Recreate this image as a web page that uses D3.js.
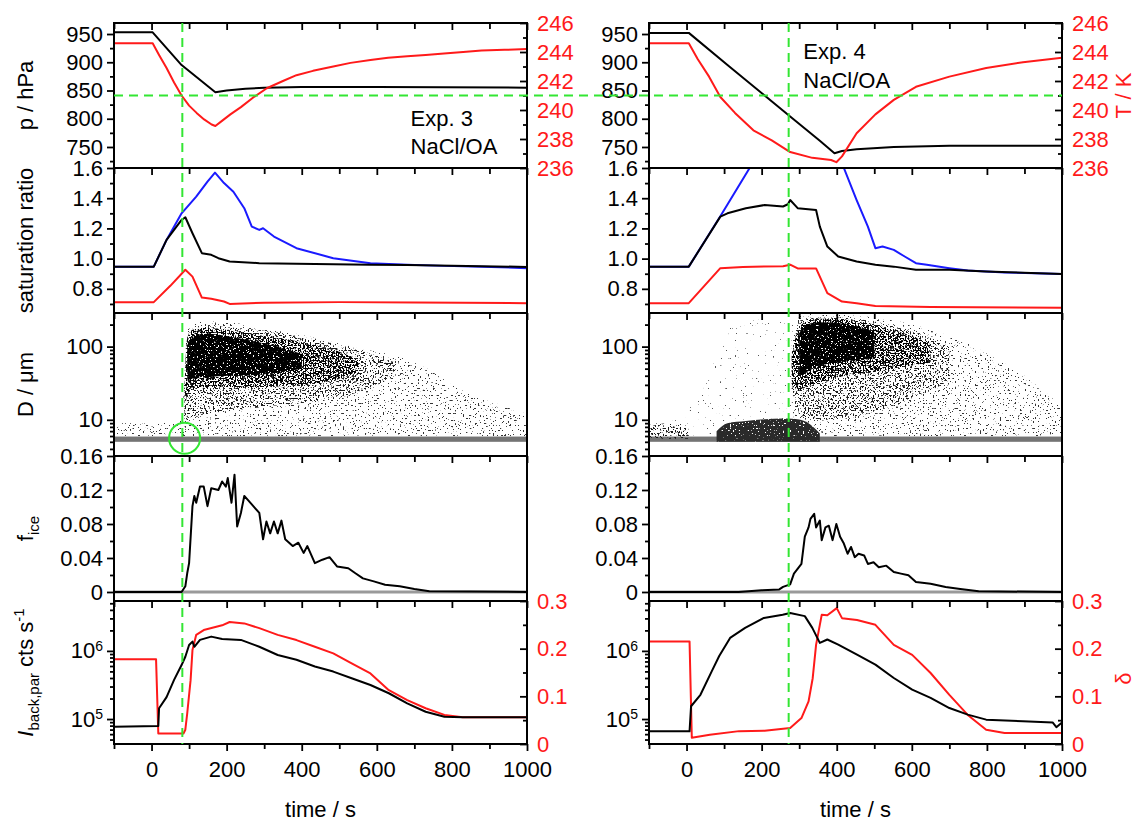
<!DOCTYPE html>
<html><head><meta charset="utf-8">
<script src="https://cdn.jsdelivr.net/npm/d3@7"></script>
<style>
body{margin:0;background:#fff;}
svg text{font-family:"Liberation Sans",Arial,Helvetica,sans-serif;}
</style></head>
<body><svg id="c" width="1138" height="824"></svg>
<script>
// ===== tick values =====
const xMajor = [0, 200, 400, 600, 800, 1000];
const xMinor = [-100, 100, 300, 500, 700, 900];
const pMajor = [750, 800, 850, 900, 950];
const pMinor = [725, 775, 825, 875, 925];
const tMajor = [236, 238, 240, 242, 244, 246];
const tMinor = [237, 239, 241, 243, 245];
const sMajor = [0.8, 1.0, 1.2, 1.4, 1.6];
const sMinor = [0.7, 0.9, 1.1, 1.3, 1.5];
const dMajor = [10, 100];
const dMinor = [4, 5, 6, 7, 8, 9, 20, 30, 40, 50, 60, 70, 80, 90, 200];
const fMajor = [0, 0.04, 0.08, 0.12, 0.16];
const fMinor = [0.02, 0.06, 0.10, 0.14];
const iMajor = [1e5, 1e6];
const iMinor = [5e4, 6e4, 7e4, 8e4, 9e4, 2e5, 3e5, 4e5, 5e5, 6e5, 7e5, 8e5, 9e5, 2e6, 3e6, 4e6, 5e6];
const delMajor = [0, 0.1, 0.2, 0.3];
const delMinor = [0.05, 0.15, 0.25];

// ===== Exp. 3 =====
const e3_pTime = [-100, 3, 80, 170, 200, 250, 300, 400, 600, 1000];
const e3_p     = [953, 953, 895, 847, 850, 853, 855, 856, 856, 855];
const e3_TTime = [-100, 3, 20, 40, 60, 80, 100, 120, 140, 160, 170, 185, 210, 238, 270, 307, 350, 386, 430, 484, 530, 583, 630, 681, 730, 779, 830, 879, 940, 1000];
const e3_T     = [244.6, 244.6, 243.8, 242.9, 241.9, 241.0, 240.3, 239.8, 239.35, 239.0, 238.9, 239.2, 239.7, 240.2, 240.85, 241.5, 242.0, 242.4, 242.7, 243.0, 243.25, 243.45, 243.6, 243.7, 243.8, 243.9, 244.0, 244.1, 244.15, 244.2];
const e3_sBlueTime = [-100, 6, 40, 80, 119, 149, 169, 193, 218, 247, 267, 287, 297, 326, 386, 484, 583, 681, 780, 879, 1000];
const e3_sBlue     = [0.947, 0.947, 1.124, 1.30, 1.41, 1.51, 1.569, 1.50, 1.443, 1.334, 1.212, 1.19, 1.201, 1.146, 1.069, 1.003, 0.97, 0.959, 0.952, 0.947, 0.937];
const e3_sBlackTime = [-100, 6, 40, 80, 90, 109, 134, 159, 178, 208, 287, 386, 583, 681, 880, 1000];
const e3_sBlack     = [0.947, 0.947, 1.124, 1.256, 1.274, 1.168, 1.036, 1.025, 1.003, 0.981, 0.97, 0.966, 0.96, 0.958, 0.95, 0.945];
const e3_sRedTime = [-100, 6, 50, 90, 109, 134, 159, 193, 208, 300, 500, 700, 1000];
const e3_sRed     = [0.712, 0.712, 0.82, 0.926, 0.881, 0.742, 0.734, 0.716, 0.70, 0.708, 0.712, 0.71, 0.705];
const e3_cloudTime = [-100, 0, 80, 88, 95, 110, 150, 200, 250, 300, 350, 400, 450, 500, 550, 600, 650, 700, 750, 800, 900, 1000];
const e3_sparseLo  = [6, 6, 6, 6, 6, 6, 6, 6, 6, 6, 6, 6, 6, 6, 6, 6, 6, 6, 6, 6, 6, 6];
const e3_sparseHi  = [9, 9, 10, 40, 180, 215, 220, 215, 200, 180, 160, 145, 125, 110, 95, 85, 75, 60, 45, 30, 18, 12];
const e3_mediumLo  = [null, null, null, 7, 9, 11, 12, 13, 14, 15, 16, 17, 18, 20, 24, 30, 40, null, null, null, null, null];
const e3_mediumHi  = [null, null, null, 30, 110, 170, 190, 185, 175, 165, 150, 135, 120, 105, 90, 75, 60, null, null, null, null, null];
const e3_darkLo    = [null, null, null, 10, 22, 26, 28, 28, 28, 28, 29, 30, 32, 36, 45, null, null, null, null, null, null, null];
const e3_darkHi    = [null, null, null, 28, 130, 170, 180, 170, 155, 140, 128, 115, 100, 85, 65, null, null, null, null, null, null, null];
const e3_denseLo   = [null, null, null, null, 35, 36, 38, 40, 40, 42, 45, 50, null, null, null, null, null, null, null, null, null, null];
const e3_denseHi   = [null, null, null, null, 100, 140, 150, 140, 125, 110, 95, 80, null, null, null, null, null, null, null, null, null, null];
const e3_fTime = [-100, 80, 90, 95, 100, 109, 114, 119, 129, 139, 149, 159, 178, 188, 198, 203, 213, 221, 228, 238, 247, 267, 287, 297, 306, 316, 326, 336, 346, 356, 376, 391, 405, 415, 435, 455, 474, 494, 524, 543, 563, 592, 622, 661, 700, 740, 1000];
const e3_f     = [0, 0, 0.0067, 0.022, 0.034, 0.101, 0.113, 0.105, 0.124, 0.124, 0.101, 0.122, 0.120, 0.130, 0.124, 0.134, 0.105, 0.138, 0.077, 0.093, 0.113, 0.103, 0.093, 0.062, 0.083, 0.069, 0.083, 0.069, 0.084, 0.062, 0.054, 0.058, 0.046, 0.054, 0.034, 0.038, 0.041, 0.030, 0.028, 0.022, 0.016, 0.0125, 0.0086, 0.0067, 0.0035, 0.0008, 0];
const e3_ITime = [-100, 18, 20, 40, 60, 80, 90, 100, 109, 114, 129, 159, 188, 238, 287, 336, 386, 435, 484, 533, 583, 632, 681, 730, 780, 829, 1000];
const e3_I     = [7.7e4, 7.9e4, 1.44e5, 2.1e5, 3.75e5, 6.2e5, 8.2e5, 1.22e6, 1.37e6, 1.15e6, 1.45e6, 1.62e6, 1.5e6, 1.45e6, 1.15e6, 8.7e5, 7.4e5, 5.9e5, 4.97e5, 3.97e5, 3.16e5, 2.39e5, 1.7e5, 1.28e5, 1.08e5, 1.06e5, 1.06e5];
const e3_delTime = [-100, 12, 18, 85, 90, 95, 104, 109, 119, 139, 188, 208, 247, 287, 336, 386, 435, 484, 533, 583, 632, 681, 730, 780, 829, 1000];
const e3_del     = [0.178, 0.178, 0.022, 0.022, 0.03, 0.064, 0.134, 0.197, 0.229, 0.239, 0.249, 0.256, 0.253, 0.243, 0.229, 0.218, 0.204, 0.190, 0.169, 0.148, 0.113, 0.092, 0.075, 0.061, 0.056, 0.056];

// ===== Exp. 4 =====
const e4_pTime = [-100, 6, 109, 208, 276, 355, 394, 414, 453, 552, 700, 1000];
const e4_p     = [952, 952, 895, 841, 804, 761, 739, 743, 746, 750, 752, 752];
const e4_TTime = [-100, 6, 30, 60, 90, 129, 178, 227, 276, 335, 385, 399, 414, 453, 503, 552, 611, 700, 798, 896, 1000];
const e4_T     = [244.6, 244.6, 243.5, 242.3, 240.9, 239.8, 238.6, 237.9, 237.1, 236.7, 236.55, 236.4, 236.8, 238.4, 239.7, 240.7, 241.6, 242.3, 242.9, 243.3, 243.6];
const e4_sBlueTime = [-100, 6, 90, 168, 250, 330, 380, 419, 453, 483, 503, 522, 552, 581, 611, 640, 700, 749, 847, 1000];
const e4_sBlue     = [0.947, 0.947, 1.28, 1.6, 1.8, 1.86, 1.82, 1.6, 1.388, 1.212, 1.069, 1.08, 1.058, 1.014, 0.97, 0.959, 0.937, 0.921, 0.908, 0.899];
const e4_sBlackTime = [-100, 6, 90, 109, 158, 208, 257, 270, 276, 296, 345, 355, 375, 404, 453, 503, 552, 611, 700, 798, 1000];
const e4_sBlack     = [0.947, 0.947, 1.278, 1.30, 1.334, 1.355, 1.345, 1.36, 1.388, 1.334, 1.322, 1.212, 1.08, 1.014, 0.981, 0.959, 0.947, 0.926, 0.926, 0.915, 0.899];
const e4_sRedTime = [-100, 6, 90, 150, 257, 276, 296, 345, 375, 414, 453, 503, 650, 1000];
const e4_sRed     = [0.705, 0.705, 0.937, 0.945, 0.95, 0.96, 0.935, 0.935, 0.772, 0.716, 0.705, 0.687, 0.679, 0.675];
const e4_cloudTime = [-100, -50, 0, 6, 50, 80, 109, 158, 208, 257, 280, 300, 320, 355, 400, 450, 500, 550, 600, 650, 700, 750, 800, 900, 1000];
const e4_faintLo   = [6, 6, 6, 6, 6, 6, 6, 6, 6, 6, 6, 6, null, null, null, null, null, null, null, null, null, null, null, null, null];
const e4_faintHi   = [10, 10, 12, 14, 30, 80, 180, 220, 240, 260, 270, 270, null, null, null, null, null, null, null, null, null, null, null, null, null];
const e4_sparseLo  = [null, null, null, null, null, null, null, null, null, null, 10, 8, 6, 6, 6, 6, 6, 6, 6, 6, 6, 6, 6, 6, 6];
const e4_sparseHi  = [null, null, null, null, null, null, null, null, null, null, 150, 270, 280, 280, 280, 270, 250, 230, 200, 170, 140, 110, 80, 40, 15];
const e4_mediumLo  = [5.5, 5.5, 5.5, 5.5, null, null, null, null, null, null, 25, 12, 10, 10, 10, 11, 13, 15, 20, 25, 35, null, null, null, null];
const e4_mediumHi  = [8, 9, 8.5, 7, null, null, null, null, null, null, 60, 200, 240, 250, 250, 240, 220, 190, 160, 130, 100, null, null, null, null];
const e4_darkLo    = [null, null, null, null, null, null, null, null, null, null, 30, 25, 28, 32, 38, 42, 45, 50, 55, 60, null, null, null, null, null];
const e4_darkHi    = [null, null, null, null, null, null, null, null, null, null, 80, 180, 220, 240, 240, 225, 200, 170, 140, 110, null, null, null, null, null];
const e4_denseLo   = [null, null, null, null, null, null, null, null, null, null, null, 40, 45, 55, 60, 65, 70, null, null, null, null, null, null, null, null];
const e4_denseHi   = [null, null, null, null, null, null, null, null, null, null, null, 150, 200, 215, 210, 190, 160, null, null, null, null, null, null, null, null];
const e4_domeLo    = [null, null, null, null, null, 5.0, 5.0, 5.0, 5.0, 5.0, 5.0, 5.0, 5.0, 5.0, null, null, null, null, null, null, null, null, null, null, null];
const e4_domeHi    = [null, null, null, null, null, 7.0, 9.0, 9.6, 10.2, 10.4, 10.3, 10.1, 9.3, 6.5, null, null, null, null, null, null, null, null, null, null, null];
const e4_fTime = [-100, 139, 200, 247, 257, 276, 286, 306, 315, 325, 330, 340, 345, 355, 360, 370, 379, 389, 399, 409, 419, 429, 438, 448, 458, 473, 483, 498, 512, 532, 552, 571, 591, 611, 650, 690, 729, 778, 1000];
const e4_f     = [0, 0, 0.002, 0.003, 0.006, 0.009, 0.0216, 0.033, 0.065, 0.076, 0.086, 0.092, 0.076, 0.084, 0.061, 0.076, 0.078, 0.061, 0.080, 0.065, 0.057, 0.045, 0.053, 0.041, 0.045, 0.043, 0.033, 0.035, 0.029, 0.031, 0.0235, 0.0216, 0.0196, 0.0118, 0.0098, 0.0059, 0.0035, 0.0008, 0];
const e4_ITime = [-100, 8, 12, 37, 67, 87, 116, 156, 206, 256, 276, 315, 335, 355, 375, 404, 454, 503, 552, 601, 650, 700, 749, 798, 896, 975, 985, 1000];
const e4_I     = [6.6e4, 6.6e4, 1.54e5, 2.27e5, 5.0e5, 8.4e5, 1.55e6, 2.18e6, 3.05e6, 3.4e6, 3.6e6, 3.24e6, 2.18e6, 1.31e6, 1.47e6, 1.24e6, 8.8e5, 6.3e5, 4.0e5, 2.7e5, 2.04e5, 1.45e5, 1.16e5, 9.8e4, 9.3e4, 8.9e4, 7.6e4, 8.9e4];
const e4_delTime = [-100, 8, 14, 62, 140, 208, 276, 306, 325, 336, 345, 360, 375, 400, 414, 454, 503, 552, 601, 650, 700, 749, 798, 847, 945, 1000];
const e4_del     = [0.215, 0.215, 0.013, 0.0195, 0.027, 0.028, 0.0335, 0.0545, 0.0895, 0.138, 0.208, 0.271, 0.27, 0.285, 0.264, 0.26, 0.25, 0.208, 0.187, 0.149, 0.103, 0.061, 0.030, 0.023, 0.023, 0.023];

// ===== markers / annotations =====
const markerTimes = [82, 272];
const markerTemp = 241;
const circleTime = 88, circleD = 5.6;
const bandD = [5.0, 5.9];
const expNames = ["Exp. 3", "Exp. 4"];
const aerosolName = "NaCl/OA";

// ===== assemble =====
const exps = [
  { p: [e3_pTime, e3_p], T: [e3_TTime, e3_T], sBlue: [e3_sBlueTime, e3_sBlue], sBlack: [e3_sBlackTime, e3_sBlack], sRed: [e3_sRedTime, e3_sRed],
    cloudT: e3_cloudTime, layers: [[e3_sparseLo, e3_sparseHi, "sparse"], [e3_mediumLo, e3_mediumHi, "medium"], [e3_darkLo, e3_darkHi, "dark"], [e3_denseLo, e3_denseHi, "dense"]],
    f: [e3_fTime, e3_f], I: [e3_ITime, e3_I], del: [e3_delTime, e3_del], marker: markerTimes[0], name: expNames[0], label: [690, 126, 154] },
  { p: [e4_pTime, e4_p], T: [e4_TTime, e4_T], sBlue: [e4_sBlueTime, e4_sBlue], sBlack: [e4_sBlackTime, e4_sBlack], sRed: [e4_sRedTime, e4_sRed],
    cloudT: e4_cloudTime, layers: [[e4_faintLo, e4_faintHi, "faint"], [e4_sparseLo, e4_sparseHi, "sparse"], [e4_mediumLo, e4_mediumHi, "medium"], [e4_darkLo, e4_darkHi, "dark"], [e4_denseLo, e4_denseHi, "dense"], [e4_domeLo, e4_domeHi, "dome"]],
    f: [e4_fTime, e4_f], I: [e4_ITime, e4_I], del: [e4_delTime, e4_del], marker: markerTimes[1], name: expNames[1], label: [311, 59, 88] }
];

const W = 1138, H = 824;
const RED = "#ff1a1a", BLUE = "#1a1aff", GREEN = "#33e633", FONT = "'Liberation Sans', Arial, Helvetica, sans-serif";
const colX = [[114, 527], [649, 1062]];
const rowY = [[23, 168], [168, 313], [313, 456], [456, 601], [601, 744]];

const svg = d3.select("#c");
svg.append("rect").attr("width", W).attr("height", H).attr("fill", "#fff");
const defs = svg.append("defs");

// speckle filters to mimic scattered single-particle dots: [threshold, seed, colour]
const speck = { faint: [0.71, 3, "#555"], sparse: [0.645, 5, "#333"], medium: [0.575, 7, "#1a1a1a"], dark: [0.50, 13, "#000"], dense: [0.38, 9, "#000"], dome: [0.30, 11, "#2a2a2a"] };
Object.entries(speck).forEach(([k, [thr, seed]]) => {
  const f = defs.append("filter").attr("id", "sp_" + k).attr("filterUnits", "userSpaceOnUse")
    .attr("x", 0).attr("y", 0).attr("width", W).attr("height", H).attr("color-interpolation-filters", "sRGB");
  f.append("feTurbulence").attr("type", "fractalNoise").attr("baseFrequency", 0.6).attr("numOctaves", 1).attr("seed", seed).attr("result", "n");
  const K = 30;
  f.append("feColorMatrix").attr("in", "n").attr("type", "matrix")
    .attr("values", `0 0 0 0 0  0 0 0 0 0  0 0 0 0 0  ${K} 0 0 0 ${-K * thr}`).attr("result", "m");
  f.append("feComposite").attr("in", "SourceGraphic").attr("in2", "m").attr("operator", "in");
});

function styleAxis(a, color) {
  a.select(".domain").remove();
  a.attr("font-size", null).attr("font-family", null);
  a.selectAll("line").attr("stroke", "#000").attr("stroke-width", 1.8);
  a.selectAll("text").attr("fill", color).style("font-family", FONT).style("font-size", "22px");
  return a;
}

const scalesByCol = [];

exps.forEach((E, c) => {
  const [x0, x1] = colX[c];
  const g = svg.append("g");
  const x = d3.scaleLinear().domain([-100, 1000]).range([x0, x1]);
  const yP = d3.scaleLinear().domain([712.8, 969.5]).range([rowY[0][1], rowY[0][0]]);
  const yT = d3.scaleLinear().domain([236, 246]).range([rowY[0][1], rowY[0][0]]);
  const yS = d3.scaleLinear().domain([0.64, 1.6]).range([rowY[1][1], rowY[1][0]]);
  const yD = d3.scaleLog().domain([3.2, 288]).range([rowY[2][1], rowY[2][0]]);
  const yF = d3.scaleLinear().domain([-0.0106, 0.16]).range([rowY[3][1], rowY[3][0]]);
  const yI = d3.scaleLog().domain([4.3e4, 5.4e6]).range([rowY[4][1], rowY[4][0]]);
  const yDel = d3.scaleLinear().domain([0, 0.3]).range([rowY[4][1], rowY[4][0]]);
  scalesByCol.push({ x, yT, yD });

  rowY.forEach(([t, b], r) => {
    defs.append("clipPath").attr("id", `clip${c}${r}`).append("rect")
      .attr("x", x0).attr("y", t).attr("width", x1 - x0).attr("height", b - t);
  });
  const panel = r => g.append("g").attr("clip-path", `url(#clip${c}${r})`);

  const drawLine = (pg, [ts, vs], ys, color, w) => {
    pg.append("path").datum(ts)
      .attr("d", d3.line().x((d, i) => x(ts[i])).y((d, i) => ys(vs[i])))
      .attr("fill", "none").attr("stroke", color).attr("stroke-width", w || 2).attr("stroke-linejoin", "round");
  };

  // panel 1
  const p1 = panel(0);
  drawLine(p1, E.p, yP, "#000");
  drawLine(p1, E.T, yT, RED);
  // panel 2
  const p2 = panel(1);
  drawLine(p2, E.sRed, yS, RED);
  drawLine(p2, E.sBlue, yS, BLUE);
  drawLine(p2, E.sBlack, yS, "#000");
  // panel 3: particle size cloud
  const p3 = panel(2);
  p3.append("rect").attr("x", x(-100)).attr("width", x(1000) - x(-100))
    .attr("y", yD(bandD[1])).attr("height", yD(bandD[0]) - yD(bandD[1])).attr("fill", "#747474");
  E.layers.forEach(([lo, hi, k]) => {
    const ar = d3.area().defined((d, i) => lo[i] != null && hi[i] != null)
      .x((d, i) => x(E.cloudT[i])).y0((d, i) => yD(lo[i])).y1((d, i) => yD(hi[i])).curve(d3.curveMonotoneX);
    p3.append("path").datum(E.cloudT).attr("d", ar).attr("fill", speck[k][2]).attr("filter", `url(#sp_${k})`);
  });
  // panel 4
  const p4 = panel(3);
  p4.append("line").attr("x1", x0).attr("x2", x1).attr("y1", yF(0)).attr("y2", yF(0)).attr("stroke", "#9a9a9a").attr("stroke-width", 3);
  drawLine(p4, E.f, yF, "#000");
  // panel 5
  const p5 = panel(4);
  drawLine(p5, E.del, yDel, RED);
  drawLine(p5, E.I, yI, "#000");

  // frames and axes
  rowY.forEach(([t, b], r) => {
    g.append("rect").attr("x", x0).attr("y", t).attr("width", x1 - x0).attr("height", b - t)
      .attr("fill", "none").attr("stroke", "#000").attr("stroke-width", 2);
    styleAxis(g.append("g").attr("transform", `translate(0,${t})`).call(d3.axisBottom(x).tickValues(xMajor).tickSize(7).tickFormat("")), "#000");
    styleAxis(g.append("g").attr("transform", `translate(0,${t})`).call(d3.axisBottom(x).tickValues(xMinor).tickSize(6).tickFormat("")), "#000");
  });
  styleAxis(g.append("g").attr("transform", `translate(0,${rowY[4][1]})`).call(d3.axisBottom(x).tickValues(xMajor).tickSize(7).tickPadding(10).tickFormat(d => d)), "#000");
  styleAxis(g.append("g").attr("transform", `translate(0,${rowY[4][1]})`).call(d3.axisBottom(x).tickValues(xMinor).tickSize(5).tickFormat("")), "#000");

  const left = (sc, maj, min, fmt) => {
    const a = styleAxis(g.append("g").attr("transform", `translate(${x0},0)`).call(d3.axisLeft(sc).tickValues(maj).tickSize(7).tickPadding(4).tickFormat(fmt)), "#000");
    styleAxis(g.append("g").attr("transform", `translate(${x0},0)`).call(d3.axisLeft(sc).tickValues(min).tickSize(4).tickFormat("")), "#000");
    return a;
  };
  const right = (sc, maj, min, fmt) => {
    styleAxis(g.append("g").attr("transform", `translate(${x1},0)`).call(d3.axisRight(sc).tickValues(maj).tickSizeInner(-7).tickSizeOuter(0).tickPadding(10).tickFormat(fmt)), RED);
    styleAxis(g.append("g").attr("transform", `translate(${x1},0)`).call(d3.axisRight(sc).tickValues(min).tickSizeInner(-4).tickSizeOuter(0).tickFormat("")), RED);
  };
  left(yP, pMajor, pMinor, d => d);
  left(yS, sMajor, sMinor, d3.format(".1f"));
  left(yD, dMajor, dMinor, d => d);
  left(yF, fMajor, fMinor, d => d === 0 ? "0" : d3.format(".2f")(d));
  const iAx = left(yI, iMajor, iMinor, d => "10");
  iAx.selectAll("text").append("tspan").attr("dy", "-0.55em").style("font-size", "14px").text(d => Math.round(Math.log10(d)));
  right(yT, tMajor, tMinor, d => d);
  right(yDel, delMajor, delMinor, d => d === 0 ? "0" : d3.format(".1f")(d));

  // experiment label
  const lab = g.append("g").attr("fill", "#000").style("font-size", "22px");
  lab.append("text").attr("x", x(E.label[0])).attr("y", E.label[1]).text(E.name);
  lab.append("text").attr("x", x(E.label[0])).attr("y", E.label[2]).text(aerosolName);

  // x title
  g.append("text").attr("x", (x0 + x1) / 2).attr("y", 817).attr("text-anchor", "middle").style("font-size", "22px").text("time / s");
});

// green markers
const L = scalesByCol[0], R = scalesByCol[1];
svg.append("line").attr("x1", L.x(-100)).attr("x2", R.x(1000)).attr("y1", L.yT(markerTemp)).attr("y2", L.yT(markerTemp))
  .attr("stroke", GREEN).attr("stroke-width", 2).attr("stroke-dasharray", "9,6");
scalesByCol.forEach((S, c) => {
  svg.append("line").attr("x1", S.x(exps[c].marker)).attr("x2", S.x(exps[c].marker)).attr("y1", rowY[0][0]).attr("y2", rowY[4][1])
    .attr("stroke", GREEN).attr("stroke-width", 2).attr("stroke-dasharray", "9,6");
});
svg.append("circle").attr("cx", L.x(circleTime)).attr("cy", L.yD(circleD)).attr("r", 15.5)
  .attr("fill", "none").attr("stroke", GREEN).attr("stroke-width", 2);

// rotated titles
function vtitle(xp, yc, parts, color) {
  const t = svg.append("text").attr("transform", `translate(${xp},${yc}) rotate(-90)`).attr("text-anchor", "middle")
    .attr("fill", color || "#000").style("font-size", "22px");
  parts.forEach(p => {
    const s = t.append("tspan").text(p.t);
    if (p.dy) s.attr("dy", p.dy);
    if (p.fs) s.style("font-size", p.fs);
    if (p.it) s.style("font-style", "italic");
  });
}
const yc = r => (rowY[r][0] + rowY[r][1]) / 2;
vtitle(33, yc(0), [{ t: "p / hPa" }]);
vtitle(33, yc(1), [{ t: "saturation ratio" }]);
vtitle(33, yc(2), [{ t: "D / μm" }]);
vtitle(33, yc(3), [{ t: "f" }, { t: "ice", dy: 6, fs: "15px" }]);
vtitle(33, yc(4), [{ t: "I", it: 1 }, { t: "back,par", dy: 6, fs: "15px" }, { t: " cts s", dy: -6 }, { t: "-1", dy: -9, fs: "15px" }]);
vtitle(1131, yc(0), [{ t: "T / K" }], RED);
vtitle(1131, yc(4) + 6, [{ t: "δ" }], RED);
</script></body></html>
